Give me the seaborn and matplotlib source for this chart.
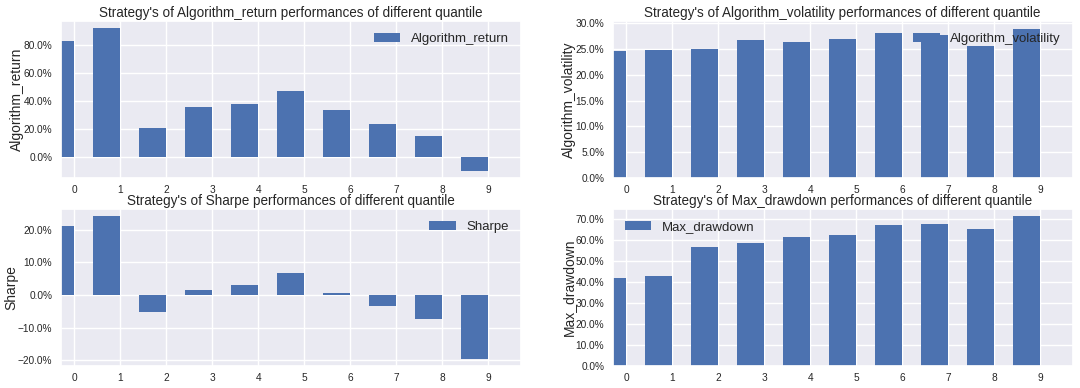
import matplotlib
matplotlib.use('Agg')
import matplotlib.pyplot as plt
import matplotlib.ticker as mticker
import pandas as pd
import seaborn as sns


quantiles = list(range(10))
algorithm_return = [0.826, 0.917, 0.207, 0.354, 0.380, 0.473, 0.335, 0.238, 0.154, -0.097]
algorithm_volatility = [0.246, 0.248, 0.250, 0.268, 0.264, 0.269, 0.281, 0.278, 0.257, 0.290]
sharpe = [0.213, 0.242, -0.051, 0.015, 0.030, 0.066, 0.007, -0.034, -0.073, -0.196]
max_drawdown = [0.419, 0.429, 0.567, 0.587, 0.614, 0.624, 0.675, 0.679, 0.654, 0.714]

df = pd.DataFrame({'quantile': quantiles,
                   'Algorithm_return': algorithm_return,
                   'Algorithm_volatility': algorithm_volatility,
                   'Sharpe': sharpe,
                   'Max_drawdown': max_drawdown})

# metric, tick step, legend loc, axes position [left, bottom, width, height]
panels = [
    ('Algorithm_return', 0.2, 'upper right', [0.0562, 0.5412, 0.4259, 0.4046]),
    ('Algorithm_volatility', 0.05, 'upper right', [0.5673, 0.5412, 0.4259, 0.4046]),
    ('Sharpe', 0.1, 'upper right', [0.0562, 0.0567, 0.4259, 0.4046]),
    ('Max_drawdown', 0.1, 'upper left', [0.5673, 0.0567, 0.4259, 0.4046]),
]

bar_color = '#4C72B0'


def plot_metric(fig, metric, step, loc, pos):
    ax = fig.add_axes(pos)
    sns.barplot(data=df, x='quantile', y=metric, native_scale=True,
                color=bar_color, saturation=1, width=0.6, errorbar=None,
                linewidth=0, edgecolor='none', ax=ax)
    # bars sit to the left of their tick, like the original pandas output
    for p in ax.patches:
        p.set_x(p.get_x() - 0.3)
    ax.set_xlim(-0.3, 9.7)
    ax.set_xticks(quantiles)
    ax.yaxis.set_major_locator(mticker.MultipleLocator(step))
    ax.yaxis.set_major_formatter(mticker.PercentFormatter(1.0, decimals=1))
    ax.tick_params(axis='both', labelsize=7.3, length=0, colors='.15')
    ax.tick_params(axis='y', pad=6)
    ax.tick_params(axis='x', pad=5)
    ax.set_xlabel('')
    ax.set_ylabel(metric, fontsize=10, color='.15', labelpad=0)
    ax.set_title("Strategy's of %s performances of different quantile" % metric,
                 fontsize=9.75, color='.15', pad=3)
    ax.legend(handles=[ax.containers[0]], labels=[metric], loc=loc,
              frameon=False, fontsize=9.5)
    return ax


if __name__ == '__main__':
    sns.set_theme(style='darkgrid', rc={'axes.facecolor': '#EAEAF2',
                                        'grid.color': 'white',
                                        'grid.linewidth': 1.0})
    plt.rcParams['font.family'] = ['Liberation Sans', 'DejaVu Sans']

    fig = plt.figure(figsize=(10.8, 3.88), dpi=100)
    for metric, step, loc, pos in panels:
        plot_metric(fig, metric, step, loc, pos)

    fig.savefig('out.png', dpi=100)
